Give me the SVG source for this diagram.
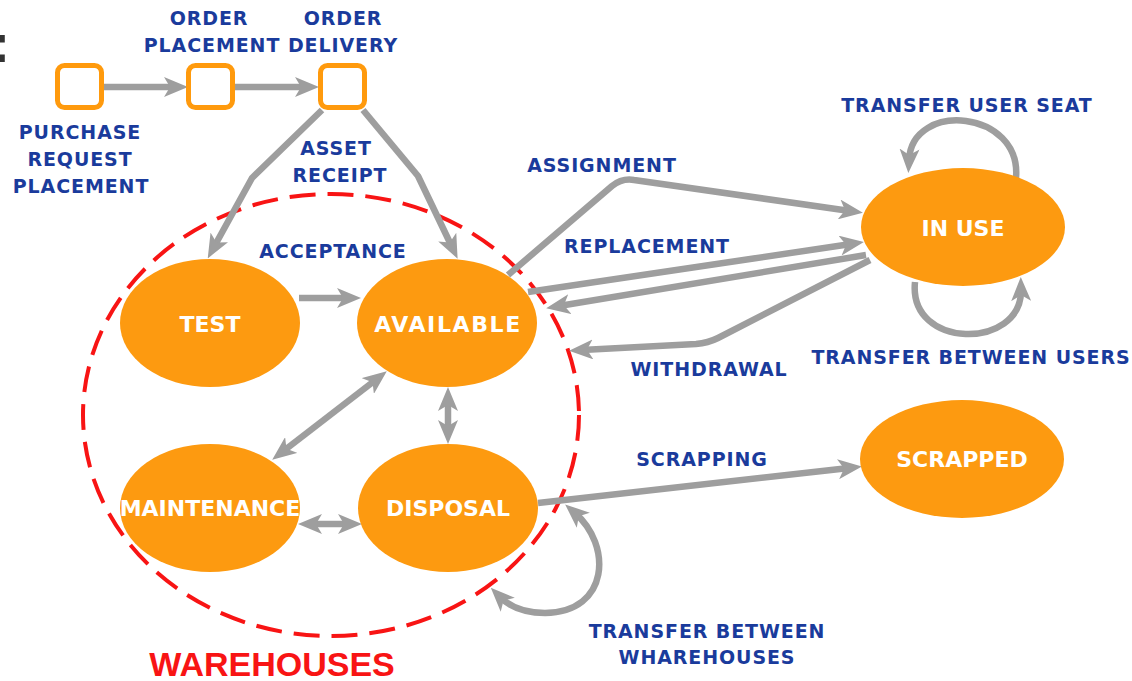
<svg xmlns="http://www.w3.org/2000/svg" width="1132" height="681" viewBox="0 0 1132 681">
<defs>
<style>
.node{fill:#fd9a10;stroke:none}
.sq{fill:#ffffff;stroke:#ff9a0d;stroke-width:5}
.nl{font-family:"DejaVu Sans",Verdana,sans-serif;font-weight:bold;font-size:22px;fill:#ffffff;text-anchor:middle}
.bl{font-family:"DejaVu Sans",Verdana,sans-serif;font-weight:bold;font-size:19px;letter-spacing:0.9px;fill:#1a3b9c;text-anchor:middle}
.conn{fill:none;stroke:#9e9e9e;stroke-width:6.5;stroke-linejoin:round}
.one{marker-end:url(#ah)}
.two{marker-start:url(#ah);marker-end:url(#ah)}
</style>
<marker id="ah" markerUnits="userSpaceOnUse" markerWidth="24" markerHeight="20" refX="11" refY="10" orient="auto-start-reverse" viewBox="0 0 24 20">
<path d="M0,0 L24,10 L0,20 L6,10 z" fill="#9e9e9e"/>
</marker>
</defs>
<rect x="0" y="0" width="1132" height="681" fill="#ffffff"/>
<text x="-8" y="62" font-family="Liberation Sans,Arial,sans-serif" font-weight="bold" font-size="54" fill="#333333">:</text>

<g id="warehouses">
<ellipse cx="331" cy="415" rx="248" ry="221" fill="none" stroke="#f81414" stroke-width="4" stroke-dasharray="26 12"/>
<text x="272" y="676" font-family="Liberation Sans,Arial,sans-serif" font-weight="bold" font-size="34" fill="#f81414" text-anchor="middle">WAREHOUSES</text>
</g>

<g id="connectors">
<path class="conn one" d="M104,87 L175,87"/>
<path class="conn one" d="M235,87 L306,87"/>
<path class="conn one" d="M322,110 L252,178 L214,247"/>
<path class="conn one" d="M363,110 L418,176 L452,247"/>
<path class="conn one" d="M299,298 L348,298"/>
<path class="conn one" d="M508,275 L612,186 Q622,178 634,180 L850,211"/>
<path class="conn one" d="M528,292 L851,244"/>
<path class="conn one" d="M866,255 L559,306"/>
<path class="conn one" d="M870,260 L718,338 Q708,343 696,344 L582,350"/>
<path class="conn one" d="M1016,178 C1022,110 912,100 909,160"/>
<path class="conn one" d="M915,282 C908,350 1022,350 1021,290"/>
<path class="conn two" d="M282.5,451.7 L376.5,379.3"/>
<path class="conn two" d="M448,431 L448,400"/>
<path class="conn two" d="M311,524 L349,524"/>
<path class="conn one" d="M538,503 L849,468"/>
<path class="conn two" d="M575,513 C612,545 610,612 545,613 C522,613 508,605 500,597"/>
</g>

<g id="n-purchase">
<rect class="sq" x="57.5" y="65.5" width="44" height="42" rx="7"/>
<text class="bl" x="80" y="139">PURCHASE</text>
<text class="bl" x="80" y="166">REQUEST</text>
<text class="bl" x="81" y="193">PLACEMENT</text>
</g>
<g id="n-order-placement">
<rect class="sq" x="188.5" y="65.5" width="44" height="42" rx="7"/>
<text class="bl" x="209" y="25">ORDER</text>
<text class="bl" x="212" y="52">PLACEMENT</text>
</g>
<g id="n-order-delivery">
<rect class="sq" x="320.5" y="65.5" width="44" height="42" rx="7"/>
<text class="bl" x="343" y="25">ORDER</text>
<text class="bl" x="343" y="52">DELIVERY</text>
</g>

<g id="n-test">
<ellipse class="node" cx="210" cy="323" rx="90" ry="64"/>
<text class="nl" x="210" y="332">TEST</text>
</g>
<g id="n-available">
<ellipse class="node" cx="447" cy="323" rx="90" ry="64"/>
<text class="nl" x="448" y="332" letter-spacing="1.6">AVAILABLE</text>
</g>
<g id="n-maintenance">
<ellipse class="node" cx="210" cy="508" rx="90" ry="64"/>
<text class="nl" x="210" y="516">MAINTENANCE</text>
</g>
<g id="n-disposal">
<ellipse class="node" cx="448" cy="508" rx="90" ry="64"/>
<text class="nl" x="448" y="516">DISPOSAL</text>
</g>
<g id="n-inuse">
<ellipse class="node" cx="963" cy="227" rx="102" ry="59"/>
<text class="nl" x="963" y="236">IN USE</text>
</g>
<g id="n-scrapped">
<ellipse class="node" cx="962" cy="459" rx="102" ry="59"/>
<text class="nl" x="962" y="467">SCRAPPED</text>
</g>

<g id="labels">
<text class="bl" x="336" y="155">ASSET</text>
<text class="bl" x="340" y="182">RECEIPT</text>
<text class="bl" x="333" y="258">ACCEPTANCE</text>
<text class="bl" x="602" y="172">ASSIGNMENT</text>
<text class="bl" x="647" y="253">REPLACEMENT</text>
<text class="bl" x="709" y="376">WITHDRAWAL</text>
<text class="bl" x="967" y="112">TRANSFER USER SEAT</text>
<text class="bl" x="971" y="364">TRANSFER BETWEEN USERS</text>
<text class="bl" x="702" y="466">SCRAPPING</text>
<text class="bl" x="707" y="638">TRANSFER BETWEEN</text>
<text class="bl" x="707" y="664">WHAREHOUSES</text>
</g>
</svg>
